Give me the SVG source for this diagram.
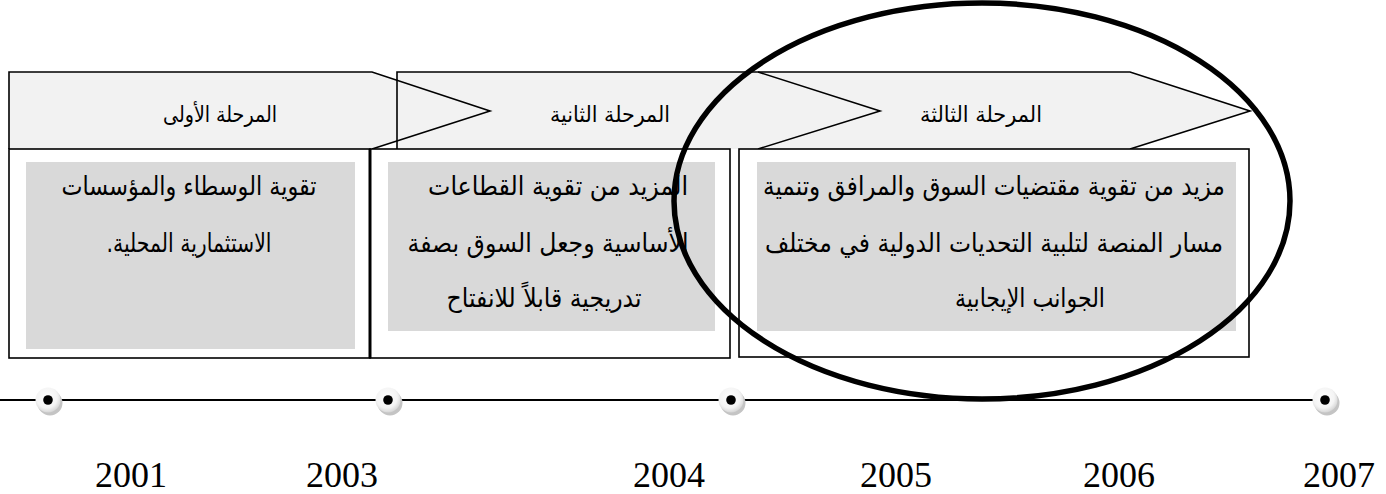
<svg xmlns="http://www.w3.org/2000/svg" width="1386" height="494" viewBox="0 0 1386 494">
  <style>
    .chev { fill: #f2f2f2; stroke: none; }
    .edge { fill: none; stroke: #000; stroke-width: 1.6; stroke-linejoin: miter; }
    .frame { fill: #fff; stroke: #000; stroke-width: 1.6; }
    .shade { fill: #d9d9d9; stroke: none; }
    .ar { font-family: "DejaVu Sans", "Noto Sans", sans-serif; fill: #000; text-anchor: middle; direction: rtl; }
    .head { font-size: 22px; }
    .body { font-size: 26px; }
    .year { font-family: "Liberation Serif", "DejaVu Serif", serif; font-size: 36px; fill: #000; text-anchor: middle; }
    .axis { stroke: #000; stroke-width: 1.8; fill: none; }
    .ring { fill: none; stroke: #000; stroke-width: 5.5; }
  </style>
  <defs>
    <radialGradient id="bead" cx="0.45" cy="0.4" r="0.6">
      <stop offset="0" stop-color="#ffffff"/>
      <stop offset="0.7" stop-color="#f4f4f4"/>
      <stop offset="1" stop-color="#d6d6d6"/>
    </radialGradient>
    <g id="marker-dot">
      <circle cx="2" cy="3" r="12.5" fill="#c4c4c4"/>
      <circle cx="0" cy="0" r="12.5" fill="url(#bead)"/>
      <circle cx="0" cy="0" r="4.8" fill="#000"/>
    </g>
  </defs>

  <!-- chevron fills, back to front -->
  <g id="chevron-fills">
    <polygon class="chev" points="758,72 1130,72 1250,111 1130,149 758,149"/>
    <polygon class="chev" points="397,72 758,72 880,111 758,149 397,149"/>
    <polygon class="chev" points="9,72 372,72 490,111 372,149 9,149"/>
  </g>

  <!-- phase 1 -->
  <g id="phase-1">
    <path class="edge" d="M9,149 L9,72 L372,72 L490,111 L372,149"/>
    <text class="ar head" x="220" y="122" textLength="114" lengthAdjust="spacingAndGlyphs">المرحلة الأولى</text>
  </g>

  <!-- phase 2 -->
  <g id="phase-2">
    <path class="edge" d="M397,149 L397,72 L758,72 L880,111 L758,149"/>
    <text class="ar head" x="610" y="122" textLength="120" lengthAdjust="spacingAndGlyphs">المرحلة الثانية</text>
  </g>

  <!-- phase 3 -->
  <g id="phase-3">
    <path class="edge" d="M758,72 L1130,72 L1250,111 L1130,149"/>
    <text class="ar head" x="981" y="122" textLength="122" lengthAdjust="spacingAndGlyphs">المرحلة الثالثة</text>
  </g>

  <!-- description boxes -->
  <g id="box-1">
    <rect class="frame" x="9" y="149" width="361" height="209"/>
    <rect class="shade" x="26" y="162" width="329" height="187"/>
    <text class="ar body" x="189" y="195" textLength="255" lengthAdjust="spacingAndGlyphs">تقوية الوسطاء والمؤسسات</text>
    <text class="ar body" x="189" y="252" textLength="165" lengthAdjust="spacingAndGlyphs">الاستثمارية المحلية.</text>
  </g>

  <g id="box-2">
    <rect class="frame" x="370" y="149" width="360" height="209"/>
    <line x1="370" y1="149" x2="370" y2="358" stroke="#000" stroke-width="3"/>
    <rect class="shade" x="388" y="162" width="327" height="169"/>
    <text class="ar body" x="558" y="195" textLength="260" lengthAdjust="spacingAndGlyphs">المزيد من تقوية القطاعات</text>
    <text class="ar body" x="548" y="252" textLength="281" lengthAdjust="spacingAndGlyphs">الأساسية وجعل السوق بصفة</text>
    <text class="ar body" x="544" y="307" textLength="195" lengthAdjust="spacingAndGlyphs">تدريجية قابلاً للانفتاح</text>
  </g>

  <g id="box-3">
    <rect class="frame" x="739" y="149" width="510" height="208"/>
    <rect class="shade" x="757" y="162" width="479" height="169"/>
    <text class="ar body" x="994" y="195" textLength="462" lengthAdjust="spacingAndGlyphs">مزيد من تقوية مقتضيات السوق والمرافق وتنمية</text>
    <text class="ar body" x="994" y="252" textLength="458" lengthAdjust="spacingAndGlyphs">مسار المنصة لتلبية التحديات الدولية في مختلف</text>
    <text class="ar body" x="1030" y="307" textLength="150" lengthAdjust="spacingAndGlyphs">الجوانب الإيجابية</text>
  </g>

  <!-- timeline axis -->
  <g id="connectors">
    <line class="axis" x1="0" y1="400" x2="1325" y2="400"/>
  </g>

  <!-- timeline markers -->
  <g id="marker-2001"><use href="#marker-dot" x="48" y="400"/></g>
  <g id="marker-2003"><use href="#marker-dot" x="388" y="400"/></g>
  <g id="marker-2004"><use href="#marker-dot" x="731" y="400"/></g>
  <g id="marker-2007"><use href="#marker-dot" x="1325" y="400"/></g>

  <!-- highlight ring around the third phase -->
  <g id="highlight">
    <ellipse class="ring" cx="982" cy="201" rx="308" ry="198"/>
  </g>

  <!-- year labels -->
  <g id="years">
    <text class="year" x="131" y="487">2001</text>
    <text class="year" x="342" y="487">2003</text>
    <text class="year" x="669" y="487">2004</text>
    <text class="year" x="896" y="487">2005</text>
    <text class="year" x="1119" y="487">2006</text>
    <text class="year" x="1339" y="487">2007</text>
  </g>
</svg>
